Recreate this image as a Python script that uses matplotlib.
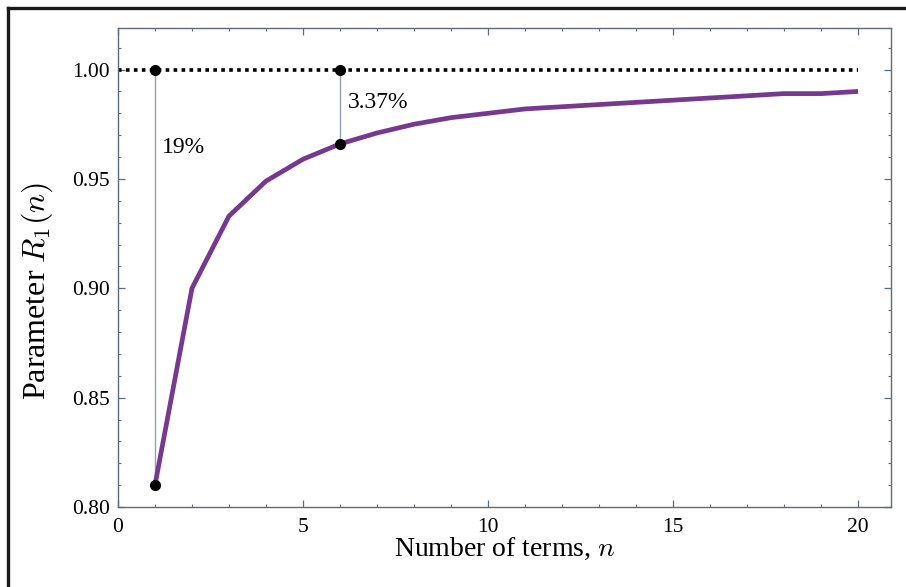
import numpy as np
import matplotlib
matplotlib.use("Agg")
import matplotlib.pyplot as plt
from matplotlib.lines import Line2D
from matplotlib.ticker import MultipleLocator

plt.rcParams['font.family'] = ['Liberation Serif', 'DejaVu Serif']
plt.rcParams['mathtext.fontset'] = 'cm'

# R1(n)
n_terms = [1, 2, 3, 4, 5, 6, 7, 8, 9, 10, 11, 12, 13, 14, 15, 16, 17, 18, 19, 20]
r1_values = [0.810, 0.900, 0.933, 0.949, 0.959, 0.966, 0.971, 0.975, 0.978, 0.980,
             0.982, 0.983, 0.984, 0.985, 0.986, 0.987, 0.988, 0.989, 0.989, 0.990]

limit_value = 1.0
marked_n = [1, 6]
marked_r1 = [0.810, 0.966]
gap_labels = ["19%", "3.37%"]

spine_col = '#5c6b7e'

fig = plt.figure(figsize=(9.06, 5.87), dpi=100)
ax = fig.add_axes([0.1302, 0.1363, 0.8532, 0.8160])

# dotted limit line
ax.plot([0, n_terms[-1]], [limit_value, limit_value], color='black', ls=(0, (1, 1.2)),
        lw=2.6, zorder=2)

# vertical gaps
for xn, yv in zip(marked_n, marked_r1):
    ax.plot([xn, xn], [yv, limit_value], color='#8fa2b6', lw=1.0, zorder=1)

ax.plot(n_terms, r1_values, color='#76398f', lw=3.4, solid_capstyle='butt', zorder=3)

ax.plot(marked_n, [limit_value] * len(marked_n), 'o', color='black', ms=7, zorder=4)
ax.plot(marked_n, marked_r1, 'o', color='black', ms=7, zorder=4)

ax.text(1.2, 0.9645, gap_labels[0], fontsize=17, va='center', ha='left')
ax.text(6.2, 0.985, gap_labels[1], fontsize=17, va='center', ha='left')

ax.set_xlim(0, 20.89)
ax.set_ylim(0.80, 1.019)
ax.xaxis.set_major_locator(MultipleLocator(5))
ax.xaxis.set_minor_locator(MultipleLocator(1))
ax.yaxis.set_major_locator(MultipleLocator(0.05))
ax.yaxis.set_minor_locator(MultipleLocator(0.01))
ax.yaxis.set_major_formatter(matplotlib.ticker.FormatStrFormatter('%.2f'))

ax.tick_params(which='both', direction='in', top=True, right=True, color=spine_col,
               labelsize=15.5)
ax.tick_params(axis='x', which='both', pad=8, labeltop=False)
ax.tick_params(axis='y', which='both', pad=6, labelright=False)
ax.tick_params(which='major', length=5, width=0.9)
ax.tick_params(which='minor', length=2.5, width=0.8)
for sp in ax.spines.values():
    sp.set_color(spine_col)
    sp.set_linewidth(1.0)

ax.set_xlabel("Number of terms, $n$", fontsize=20, labelpad=-1)
ax.set_ylabel("Parameter $R_1(n)$", fontsize=23)
ax.yaxis.set_label_coords(-0.082, 0.451)

# outer frame (top and left edges)
fig.add_artist(Line2D([8 / 906, 905 / 906], [1 - 8 / 587, 1 - 8 / 587],
                      transform=fig.transFigure, color='#1a1a1a', lw=2.4))
fig.add_artist(Line2D([8 / 906, 8 / 906], [0, 1 - 8 / 587],
                      transform=fig.transFigure, color='#1a1a1a', lw=2.4))

fig.savefig("out.png", dpi=100)
